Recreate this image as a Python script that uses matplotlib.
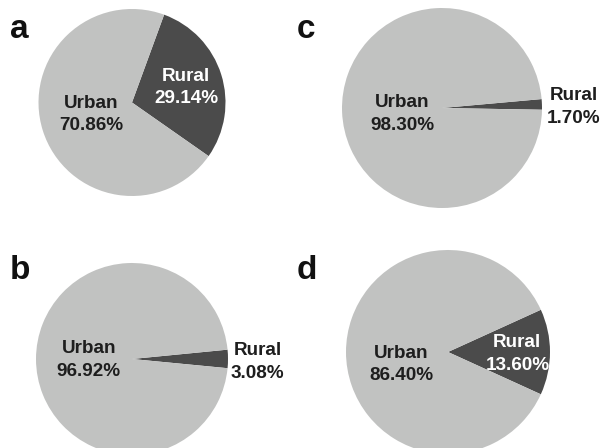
import matplotlib
matplotlib.use("Agg")
import matplotlib.pyplot as plt

# Urban / rural shares for the four panels
panels = ["a", "b", "c", "d"]
urban_share = [70.86, 96.92, 98.30, 86.40]
rural_share = [29.14, 3.08, 1.70, 13.60]
categories = ["Urban", "Rural"]

URBAN_COLOR = "#c1c2c1"
RURAL_COLOR = "#4b4b4b"

W, H = 604, 448
fig = plt.figure(figsize=(W / 100, H / 100), dpi=100)

# layout per panel: pie centre (px), radius (px), start angle, label offsets (in radii)
layout = {
    "a": dict(c=(132, 102.5), r=93.5, start=-35, urb=(-0.44, -0.13), rur=(0.58, 0.16),
              rur_in=True, letter=(10, 38)),
    "b": dict(c=(132, 359), r=96, start=-5.5, urb=(-0.45, -0.01), rur=(1.31, -0.03),
              rur_in=False, letter=(10, 279)),
    "c": dict(c=(442, 108), r=100, start=-1, urb=(-0.40, -0.06), rur=(1.32, 0.01),
              rur_in=False, letter=(297, 38)),
    "d": dict(c=(448, 352), r=102, start=-24.5, urb=(-0.46, -0.12), rur=(0.68, -0.02),
              rur_in=True, letter=(297, 279)),
}

font = ["Liberation Sans", "DejaVu Sans"]
label_kw = dict(ha="center", va="center", fontsize=13.6, fontweight="bold",
                family=font, linespacing=1.42, clip_on=False)

for name, urb, rur in zip(panels, urban_share, rural_share):
    L = layout[name]
    cx, cy = L["c"]
    r = L["r"]
    ax = fig.add_axes([(cx - r) / W, (H - cy - r) / H, 2 * r / W, 2 * r / H])
    ax.pie([rur, urb], colors=[RURAL_COLOR, URBAN_COLOR], startangle=L["start"],
           counterclock=True, radius=1, wedgeprops=dict(linewidth=0))
    ax.set_xlim(-1, 1)
    ax.set_ylim(-1, 1)
    ax.set_aspect("equal")
    ax.axis("off")

    ux, uy = L["urb"]
    ax.text(ux, uy, f"{categories[0]}\n{urb:.2f}%", color="#1e1e1e", **label_kw)
    rx, ry = L["rur"]
    ax.text(rx, ry, f"{categories[1]}\n{rur:.2f}%",
            color="white" if L["rur_in"] else "#1e1e1e", **label_kw)

    lx, ly = L["letter"]
    fig.text(lx / W, 1 - ly / H, name, ha="left", va="baseline",
             fontsize=24, fontweight="bold", color="#111111", family=font)

fig.savefig("out.png", dpi=100, facecolor="white")
